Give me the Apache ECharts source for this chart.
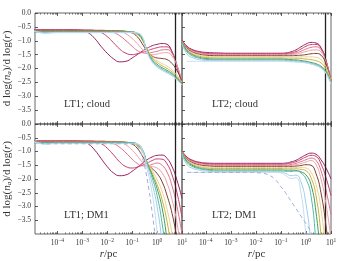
<!DOCTYPE html>
<html><head><meta charset="utf-8">
<script src="https://cdn.jsdelivr.net/npm/echarts@6/dist/echarts.min.js"></script>
<style>html,body{margin:0;padding:0;background:#fff}#c{width:348px;height:261px}</style>
</head><body><div id="c"></div>
<script>
// log10(r / pc) sample positions
const logR = [-4.95,-4.75,-4.5,-4.25,-4,-3.5,-3,-2.75,-2.5,-2.25,-2,-1.75,-1.5,-1.25,-1,-0.8,-0.6,-0.4,-0.2,0,0.2,0.4,0.6,0.8,1];
const xTickDecades = [-4,-3,-2,-1,0,1];
const yTickValues = [0,-0.5,-1,-1.5,-2,-2.5,-3,-3.5];
const panelNames = ['LT1; cloud','LT2; cloud','LT1; DM1','LT2; DM1'];
const markerLogR = [0.72, 0.76, 0.72, 0.76];

// LT1; cloud
const lt1Cloud = [
 [-0.6,-0.6,-0.6,-0.6,-0.6,-0.6,-0.62,-0.72,-0.92,-1.2,-1.45,-1.65,-1.76,-1.74,-1.62,-1.5,-1.38,-1.27,-1.18,-1.13,-1.1,-1.13,-1.4,-1.95,-2.55],
 [-0.61,-0.61,-0.61,-0.61,-0.61,-0.61,-0.61,-0.61,-0.63,-0.7,-0.85,-1.07,-1.3,-1.45,-1.5,-1.47,-1.42,-1.36,-1.3,-1.25,-1.22,-1.22,-1.4,-1.9,-2.5],
 [-0.62,-0.62,-0.62,-0.62,-0.62,-0.62,-0.62,-0.62,-0.62,-0.62,-0.64,-0.7,-0.82,-1.0,-1.2,-1.35,-1.43,-1.45,-1.42,-1.38,-1.33,-1.32,-1.45,-1.88,-2.48],
 [-0.63,-0.63,-0.63,-0.63,-0.63,-0.63,-0.63,-0.63,-0.63,-0.63,-0.63,-0.63,-0.66,-0.75,-0.92,-1.1,-1.3,-1.45,-1.5,-1.48,-1.44,-1.43,-1.55,-1.9,-2.46],
 [-0.64,-0.64,-0.64,-0.64,-0.64,-0.64,-0.64,-0.64,-0.64,-0.64,-0.64,-0.64,-0.64,-0.66,-0.72,-0.85,-1.1,-1.38,-1.55,-1.62,-1.64,-1.68,-1.82,-2.08,-2.45],
 [-0.66,-0.66,-0.66,-0.66,-0.66,-0.66,-0.66,-0.66,-0.66,-0.66,-0.66,-0.66,-0.66,-0.66,-0.7,-0.78,-0.98,-1.3,-1.58,-1.72,-1.82,-1.92,-2.05,-2.25,-2.5],
 [-0.67,-0.67,-0.67,-0.67,-0.67,-0.67,-0.67,-0.67,-0.67,-0.67,-0.67,-0.67,-0.67,-0.67,-0.7,-0.76,-0.95,-1.32,-1.62,-1.78,-1.9,-2.0,-2.12,-2.3,-2.52],
 [-0.68,-0.68,-0.68,-0.68,-0.68,-0.68,-0.68,-0.68,-0.68,-0.68,-0.68,-0.68,-0.68,-0.68,-0.68,-0.74,-0.92,-1.35,-1.68,-1.85,-1.97,-2.07,-2.18,-2.35,-2.55],
 [-0.69,-0.69,-0.69,-0.69,-0.69,-0.69,-0.69,-0.69,-0.69,-0.69,-0.69,-0.69,-0.69,-0.69,-0.69,-0.73,-0.88,-1.38,-1.72,-1.9,-2.02,-2.12,-2.22,-2.38,-2.57],
 [-0.64,-0.68,-0.72,-0.71,-0.7,-0.7,-0.7,-0.7,-0.7,-0.7,-0.7,-0.7,-0.7,-0.7,-0.7,-0.72,-0.85,-1.4,-1.75,-1.93,-2.05,-2.15,-2.25,-2.4,-2.58],
 [-0.66,-0.7,-0.74,-0.72,-0.71,-0.71,-0.71,-0.71,-0.71,-0.71,-0.71,-0.71,-0.71,-0.71,-0.71,-0.72,-0.84,-1.42,-1.77,-1.95,-2.07,-2.17,-2.27,-2.42,-2.6]
];
const lt1CloudDashed = null;

// LT2; cloud
const lt2Cloud = [
 [-0.97,-1.2,-1.33,-1.39,-1.42,-1.44,-1.45,-1.45,-1.45,-1.45,-1.45,-1.45,-1.45,-1.45,-1.45,-1.44,-1.4,-1.33,-1.22,-1.12,-1.06,-1.08,-1.25,-1.7,-2.45],
 [-0.99,-1.22,-1.35,-1.41,-1.45,-1.47,-1.47,-1.47,-1.47,-1.47,-1.47,-1.47,-1.47,-1.47,-1.47,-1.46,-1.44,-1.39,-1.3,-1.2,-1.14,-1.13,-1.27,-1.72,-2.45],
 [-1.0,-1.24,-1.37,-1.44,-1.47,-1.49,-1.49,-1.49,-1.49,-1.49,-1.49,-1.49,-1.49,-1.49,-1.49,-1.49,-1.47,-1.44,-1.38,-1.3,-1.24,-1.22,-1.32,-1.74,-2.45],
 [-1.0,-1.26,-1.39,-1.46,-1.49,-1.51,-1.51,-1.51,-1.51,-1.51,-1.51,-1.51,-1.51,-1.51,-1.51,-1.51,-1.5,-1.48,-1.44,-1.39,-1.34,-1.33,-1.4,-1.78,-2.46],
 [-1.01,-1.28,-1.42,-1.49,-1.52,-1.54,-1.54,-1.54,-1.54,-1.54,-1.54,-1.54,-1.54,-1.54,-1.54,-1.54,-1.54,-1.53,-1.52,-1.5,-1.47,-1.46,-1.52,-1.84,-2.47],
 [-1.02,-1.3,-1.45,-1.52,-1.56,-1.58,-1.58,-1.58,-1.58,-1.58,-1.58,-1.58,-1.58,-1.58,-1.58,-1.58,-1.58,-1.58,-1.58,-1.58,-1.58,-1.6,-1.68,-1.94,-2.48],
 [-1.03,-1.33,-1.49,-1.56,-1.6,-1.62,-1.62,-1.62,-1.62,-1.62,-1.62,-1.62,-1.62,-1.62,-1.62,-1.63,-1.63,-1.63,-1.64,-1.66,-1.68,-1.72,-1.8,-2.02,-2.5],
 [-1.04,-1.36,-1.52,-1.6,-1.64,-1.66,-1.66,-1.66,-1.66,-1.66,-1.66,-1.66,-1.66,-1.66,-1.66,-1.67,-1.68,-1.69,-1.71,-1.74,-1.78,-1.83,-1.92,-2.1,-2.52],
 [-1.05,-1.4,-1.56,-1.63,-1.67,-1.69,-1.69,-1.69,-1.69,-1.69,-1.69,-1.69,-1.69,-1.69,-1.69,-1.7,-1.71,-1.72,-1.74,-1.77,-1.81,-1.87,-1.96,-2.15,-2.54],
 [-1.1,-1.48,-1.62,-1.68,-1.71,-1.72,-1.72,-1.72,-1.72,-1.72,-1.72,-1.72,-1.72,-1.72,-1.72,-1.73,-1.74,-1.75,-1.77,-1.79,-1.83,-1.89,-1.98,-2.17,-2.55],
 [null,-1.74,-1.74,-1.74,-1.74,-1.74,-1.74,-1.74,-1.74,-1.74,-1.74,-1.74,-1.74,-1.74,-1.74,-1.75,-1.76,-1.77,-1.78,-1.8,-1.84,-1.9,-1.99,-2.18,-2.56]
];
const lt2CloudDashed = null;

// LT1; DM1
const lt1Dm1 = [
 [-0.6,-0.6,-0.6,-0.6,-0.6,-0.6,-0.62,-0.73,-0.95,-1.25,-1.55,-1.78,-1.88,-1.85,-1.72,-1.58,-1.44,-1.3,-1.2,-1.14,-1.13,-1.25,-1.55,-2.05,-2.7],
 [-0.61,-0.61,-0.61,-0.61,-0.61,-0.61,-0.61,-0.61,-0.63,-0.71,-0.88,-1.12,-1.38,-1.55,-1.6,-1.57,-1.5,-1.42,-1.33,-1.27,-1.28,-1.45,-1.85,-2.5,-3.4],
 [-0.62,-0.62,-0.62,-0.62,-0.62,-0.62,-0.62,-0.62,-0.62,-0.62,-0.64,-0.71,-0.85,-1.05,-1.28,-1.43,-1.52,-1.52,-1.47,-1.42,-1.5,-1.75,-2.25,-3.0,-4.0],
 [-0.63,-0.63,-0.63,-0.63,-0.63,-0.63,-0.63,-0.63,-0.63,-0.63,-0.63,-0.63,-0.66,-0.76,-0.95,-1.15,-1.38,-1.52,-1.55,-1.6,-1.78,-2.15,-2.75,-3.6,-4.8],
 [-0.64,-0.64,-0.64,-0.64,-0.64,-0.64,-0.64,-0.64,-0.64,-0.64,-0.64,-0.64,-0.64,-0.66,-0.73,-0.88,-1.15,-1.45,-1.62,-1.8,-2.1,-2.6,-3.25,-4.2,-5.4],
 [-0.66,-0.66,-0.66,-0.66,-0.66,-0.66,-0.66,-0.66,-0.66,-0.66,-0.66,-0.66,-0.66,-0.66,-0.7,-0.79,-1.0,-1.35,-1.68,-2.02,-2.45,-3.1,-4.0,-5.2,-6.5],
 [-0.67,-0.67,-0.67,-0.67,-0.67,-0.67,-0.67,-0.67,-0.67,-0.67,-0.67,-0.67,-0.67,-0.67,-0.7,-0.77,-0.97,-1.4,-1.78,-2.2,-2.75,-3.55,-4.7,-6.0,-7.5],
 [-0.68,-0.68,-0.68,-0.68,-0.68,-0.68,-0.68,-0.68,-0.68,-0.68,-0.68,-0.68,-0.68,-0.68,-0.68,-0.74,-0.93,-1.42,-1.85,-2.35,-3.05,-4.2,-5.5,-7.0,-8.5],
 [-0.69,-0.69,-0.69,-0.69,-0.69,-0.69,-0.69,-0.69,-0.69,-0.69,-0.69,-0.69,-0.69,-0.69,-0.69,-0.73,-0.9,-1.45,-1.95,-2.6,-3.6,-5.0,-6.5,-8.0,-9.5],
 [-0.64,-0.68,-0.72,-0.71,-0.7,-0.7,-0.7,-0.7,-0.7,-0.7,-0.7,-0.7,-0.7,-0.7,-0.7,-0.72,-0.9,-1.5,-2.15,-3.0,-4.3,-6.0,-7.5,-9.0,-10.0],
 [-0.66,-0.7,-0.74,-0.72,-0.71,-0.71,-0.71,-0.71,-0.71,-0.71,-0.71,-0.71,-0.71,-0.71,-0.71,-0.73,-0.95,-1.65,-2.5,-3.9,-5.5,-7.0,-8.5,-10.0,-11.0]
];
const lt1Dm1Dashed = [-0.55,-0.65,-0.72,-0.72,-0.72,-0.72,-0.72,-0.72,-0.72,-0.72,-0.72,-0.72,-0.72,-0.72,-0.72,-0.8,-1.2,-2.0,-3.2,-4.6,-6.0,-7.5,-9.0,-10.5,-12.0];

// LT2; DM1
const lt2Dm1 = [
 [-0.98,-1.2,-1.33,-1.39,-1.42,-1.43,-1.43,-1.43,-1.43,-1.43,-1.43,-1.43,-1.43,-1.43,-1.43,-1.42,-1.38,-1.32,-1.22,-1.12,-1.06,-1.1,-1.3,-1.6,-2.0],
 [-0.99,-1.22,-1.35,-1.41,-1.44,-1.46,-1.46,-1.46,-1.46,-1.46,-1.46,-1.46,-1.46,-1.46,-1.46,-1.45,-1.42,-1.37,-1.29,-1.2,-1.14,-1.18,-1.45,-1.95,-2.6],
 [-1.0,-1.24,-1.37,-1.44,-1.47,-1.49,-1.49,-1.49,-1.49,-1.49,-1.49,-1.49,-1.49,-1.49,-1.49,-1.49,-1.47,-1.43,-1.37,-1.3,-1.24,-1.32,-1.7,-2.4,-3.3],
 [-1.0,-1.26,-1.39,-1.46,-1.49,-1.51,-1.51,-1.51,-1.51,-1.51,-1.51,-1.51,-1.51,-1.51,-1.51,-1.51,-1.5,-1.48,-1.44,-1.38,-1.33,-1.48,-2.0,-2.9,-4.2],
 [-1.01,-1.28,-1.42,-1.49,-1.52,-1.54,-1.54,-1.54,-1.54,-1.54,-1.54,-1.54,-1.54,-1.54,-1.54,-1.54,-1.54,-1.53,-1.51,-1.48,-1.5,-1.8,-2.5,-3.7,-5.2],
 [-1.02,-1.3,-1.45,-1.52,-1.56,-1.58,-1.58,-1.58,-1.58,-1.58,-1.58,-1.58,-1.58,-1.58,-1.58,-1.58,-1.58,-1.58,-1.58,-1.6,-1.75,-2.2,-3.1,-4.7,-6.5],
 [-1.03,-1.33,-1.49,-1.56,-1.6,-1.62,-1.62,-1.62,-1.62,-1.62,-1.62,-1.62,-1.62,-1.62,-1.62,-1.63,-1.63,-1.63,-1.65,-1.7,-1.95,-2.6,-4.0,-6.0,-8.0],
 [-1.04,-1.36,-1.52,-1.6,-1.64,-1.67,-1.67,-1.67,-1.67,-1.67,-1.67,-1.67,-1.67,-1.67,-1.67,-1.68,-1.68,-1.69,-1.74,-1.85,-2.2,-3.2,-5.0,-7.0,-9.0],
 [-1.05,-1.4,-1.56,-1.63,-1.67,-1.71,-1.71,-1.71,-1.71,-1.71,-1.71,-1.71,-1.71,-1.71,-1.71,-1.72,-1.73,-1.71,-1.78,-2.0,-2.6,-4.3,-6.5,-8.5,-10.0],
 [-1.1,-1.48,-1.62,-1.68,-1.71,-1.74,-1.74,-1.74,-1.74,-1.74,-1.74,-1.74,-1.74,-1.74,-1.75,-1.8,-1.88,-1.86,-2.1,-2.9,-4.3,-6.0,-8.0,-10.0,-12.0],
 [null,-1.76,-1.76,-1.76,-1.76,-1.76,-1.76,-1.76,-1.76,-1.76,-1.76,-1.76,-1.76,-1.76,-1.78,-1.88,-1.98,-1.95,-2.5,-4.0,-5.5,-7.0,-9.0,-11.0,-13.0]
];
const lt2Dm1Dashed = [null,-1.76,-1.76,-1.76,-1.76,-1.76,-1.76,-1.76,-1.76,-1.76,-1.77,-1.79,-1.85,-2.0,-2.28,-2.52,-2.8,-3.07,-3.35,-3.62,-3.92,-4.25,-4.6,-5.0,-5.4];

const lineColors = ['#9b1d5f','#c43c6c','#dd6f86','#eaa1aa','#7b3a2c','#ecd18f','#c9b03c','#3e9a5b','#58b7a7','#9fcde6','#c3dcf2'];
const dashColor = '#a3a6dc';

const panelData = [lt1Cloud, lt2Cloud, lt1Dm1, lt2Dm1];
const panelDashed = [lt1CloudDashed, lt2CloudDashed, lt1Dm1Dashed, lt2Dm1Dashed];

const FONT = '"Liberation Serif", "DejaVu Serif", serif';
const grids = [
  {left: 35, top: 13, width: 147, height: 111},
  {left: 182, top: 13, width: 149, height: 111},
  {left: 35, top: 124, width: 147, height: 110},
  {left: 182, top: 124, width: 149, height: 110}
];
const xMins = [-4.9, -4.95, -4.9, -4.95];

function minorVals(min, max) {
  const out = [];
  for (let d = -6; d <= 1; d++) for (let k = 2; k <= 9; k++) {
    const v = d + Math.log10(k);
    if (v > min && v < max) out.push(v);
  }
  return out;
}

const xAxes = [], yAxes = [], series = [];
grids.forEach((g, gi) => {
  const isBottom = gi >= 2, isLeft = gi % 2 === 0;
  const base = {type: 'value', gridIndex: gi, min: xMins[gi], max: 1, splitLine: {show: false}};
  const noLine = {show: false, onZero: false};
  xAxes.push(Object.assign({}, base, {
    position: 'bottom',
    axisLine: noLine,
    axisTick: {show: true, inside: true, length: 3, customValues: xTickDecades, lineStyle: {color: '#333', width: 0.8}},
    axisLabel: {show: isBottom, customValues: xTickDecades, margin: 4, fontFamily: FONT, color: '#333',
      formatter: v => '{b|10}{s|' + (v < 0 ? '\u2212' + Math.abs(v) : v) + '}',
      rich: {b: {fontSize: 7.5, fontFamily: FONT, color: '#333'}, s: {fontSize: 5.5, fontFamily: FONT, color: '#333', verticalAlign: 'bottom', padding: [0, 0, 5, 0]}}},
    name: isBottom ? '{i|r}{t|/pc}' : '', nameLocation: 'middle', nameGap: 14,
    nameTextStyle: {rich: {i: {fontSize: 11, fontStyle: 'italic', fontFamily: FONT, color: '#333'}, t: {fontSize: 11, fontFamily: FONT, color: '#333'}}}
  }));
  xAxes.push(Object.assign({}, base, {
    position: 'bottom', axisLine: noLine, axisLabel: {show: false},
    axisTick: {show: true, inside: true, length: 1.6, customValues: minorVals(xMins[gi], 1), lineStyle: {color: '#333', width: 0.6}}
  }));
  xAxes.push(Object.assign({}, base, {
    position: 'top', axisLine: noLine, axisLabel: {show: false},
    axisTick: {show: true, inside: true, length: 3, customValues: xTickDecades, lineStyle: {color: '#333', width: 0.8}}
  }));
  xAxes.push(Object.assign({}, base, {
    position: 'top', axisLine: noLine, axisLabel: {show: false},
    axisTick: {show: true, inside: true, length: 1.6, customValues: minorVals(xMins[gi], 1), lineStyle: {color: '#333', width: 0.6}}
  }));
  yAxes.push({
    type: 'value', gridIndex: gi, min: -4, max: 0, interval: 0.5, splitLine: {show: false},
    position: 'left',
    axisLine: noLine,
    axisTick: {show: true, inside: true, length: 3, customValues: yTickValues, lineStyle: {color: '#333', width: 0.8}},
    axisLabel: {show: isLeft, customValues: yTickValues, margin: 4, fontSize: 7.5, fontFamily: FONT, color: '#333',
      formatter: v => v === 0 ? '0.0' : '\u2212' + Math.abs(v).toFixed(1)},
    name: isLeft ? '{t|d log(}{i|n}{s|a}{t|)/d log(}{i|r}{t|)}' : '', nameLocation: 'middle', nameRotate: 90, nameGap: 22,
    nameTextStyle: {rich: {
      t: {fontSize: 11, fontFamily: FONT, color: '#333'},
      i: {fontSize: 11, fontFamily: FONT, fontStyle: 'italic', color: '#333'},
      s: {fontSize: 7, fontFamily: FONT, fontStyle: 'italic', color: '#333', verticalAlign: 'top', padding: [5, 0, 0, 0]}}}
  });
  const rows = panelData[gi];
  rows.forEach((row, ci) => {
    const s = {
      type: 'line', xAxisIndex: gi * 4, yAxisIndex: gi, symbol: 'none', smooth: 0.5,
      data: logR.map((x, i) => [x, row[i]]), connectNulls: false,
      lineStyle: {color: lineColors[ci], width: 1}, silent: true, animation: false, z: 2 + ci
    };
    if (ci === 0) {
      s.markLine = {silent: true, symbol: 'none', label: {show: false}, animation: false,
        lineStyle: {color: '#222', width: 1.3, type: 'solid'}, data: [{xAxis: markerLogR[gi]}]};
    }
    series.push(s);
  });
  const dash = panelDashed[gi];
  if (dash) {
    series.push({type: 'line', xAxisIndex: gi * 4, yAxisIndex: gi, symbol: 'none', smooth: 0.5,
      data: logR.map((x, i) => [x, dash[i]]), lineStyle: {color: dashColor, width: 1, type: [4, 3]}, silent: true, animation: false, z: 20});
  }
});

const textPos = [[64, 104], [212, 104], [64, 215], [212, 215]];
const chart = echarts.init(document.getElementById('c'), null, {renderer: 'canvas'});
chart.setOption({
  animation: false,
  backgroundColor: '#fff',
  grid: grids.map(g => Object.assign({show: true, borderColor: '#555', borderWidth: 0.9, backgroundColor: 'transparent'}, g)),
  xAxis: xAxes, yAxis: yAxes, series: series,
  graphic: panelNames.map((t, i) => ({type: 'text', x: textPos[i][0], y: textPos[i][1], silent: true, z: 50,
    style: {text: t, font: '10.5px ' + FONT, fill: '#333', verticalAlign: 'middle'}}))
});
</script></body></html>
